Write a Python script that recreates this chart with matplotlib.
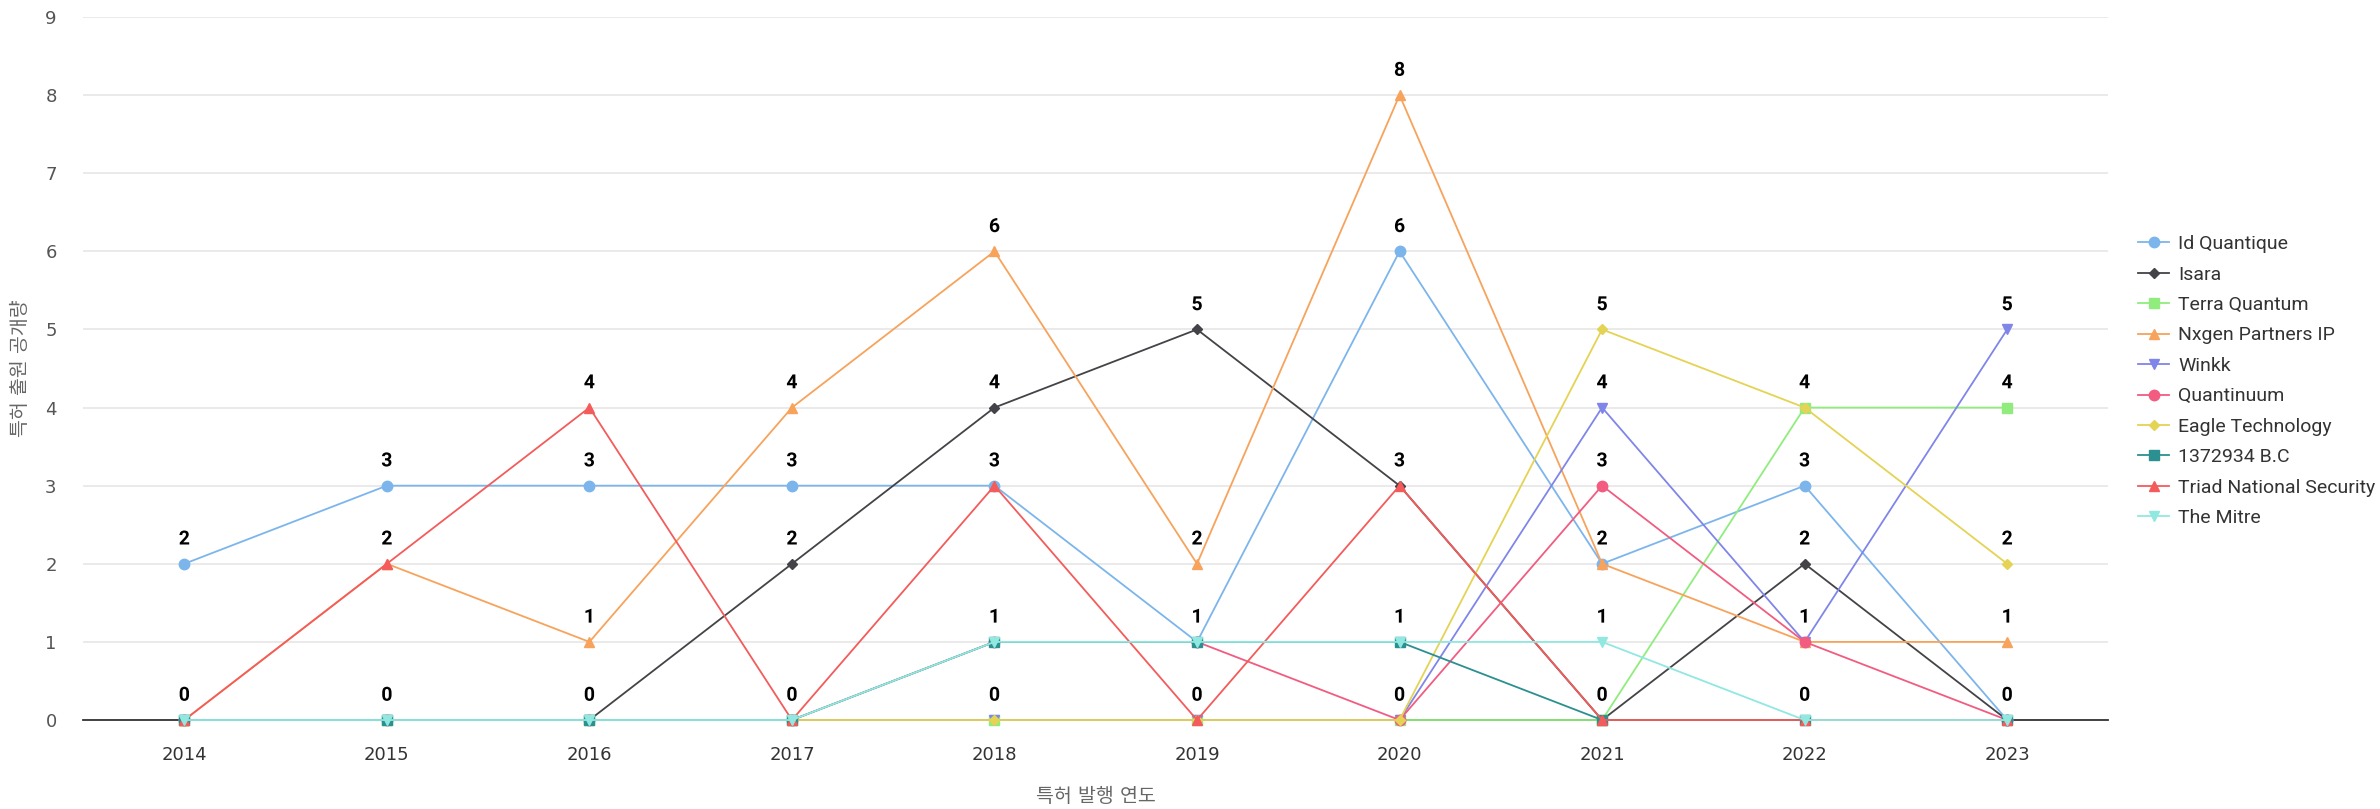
import numpy as np
import matplotlib
matplotlib.use("Agg")
import matplotlib.pyplot as plt
import matplotlib.patheffects as pe

plt.rcParams['font.family'] = ['DejaVu Sans', 'Noto Sans CJK KR']

# 데이터
years = ['2014', '2015', '2016', '2017', '2018', '2019', '2020', '2021', '2022', '2023']
id_quantique = [2, 3, 3, 3, 3, 1, 6, 2, 3, 0]
isara = [0, 0, 0, 2, 4, 5, 3, 0, 2, 0]
terra_quantum = [0, 0, 0, 0, 0, 0, 0, 0, 4, 4]
nxgen = [0, 2, 1, 4, 6, 2, 8, 2, 1, 1]
winkk = [0, 0, 0, 0, 0, 0, 0, 4, 1, 5]
quantinuum = [0, 0, 0, 0, 1, 1, 0, 3, 1, 0]
eagle = [0, 0, 0, 0, 0, 0, 0, 5, 4, 2]
bc1372934 = [0, 0, 0, 0, 1, 1, 1, 0, 0, 0]
triad = [0, 2, 4, 0, 3, 0, 3, 0, 0, 0]
mitre = [0, 0, 0, 0, 1, 1, 1, 1, 0, 0]

series = [
    ('Id Quantique', id_quantique, '#7cb5ec', 'o', 7.5),
    ('Isara', isara, '#434348', 'D', 5.5),
    ('Terra Quantum', terra_quantum, '#90ed7d', 's', 7),
    ('Nxgen Partners IP', nxgen, '#f7a35c', '^', 7.5),
    ('Winkk', winkk, '#8085e9', 'v', 7.5),
    ('Quantinuum', quantinuum, '#f15c80', 'o', 7.5),
    ('Eagle Technology', eagle, '#e4d354', 'D', 5.5),
    ('1372934 B.C', bc1372934, '#2b908f', 's', 7),
    ('Triad National Security', triad, '#f45b5b', '^', 7.5),
    ('The Mitre', mitre, '#91e8e1', 'v', 7.5),
]

fig = plt.figure(figsize=(23.8, 8.09), dpi=100)
ax = fig.add_axes([0.0349, 0.110, 0.851, 0.869])

x = np.arange(len(years))
for i, (name, vals, col, mk, ms) in enumerate(series):
    ax.plot(x, vals, color=col, lw=1.3, marker=mk, markersize=ms,
            label=name, zorder=3 + i, clip_on=False)

# 값 라벨 (연도별 같은 값은 한 번만)
for j in range(len(years)):
    shown = set()
    for name, vals, col, mk, ms in series:
        v = vals[j]
        if v in shown:
            continue
        shown.add(v)
        ax.annotate(str(v), (x[j], v), xytext=(0, 11), textcoords='offset points',
                    ha='center', va='bottom', fontsize=14, fontweight='bold',
                    family=['Roboto', 'DejaVu Sans'], color='black', zorder=20,
                    path_effects=[pe.withStroke(linewidth=2, foreground='white')])

ax.set_xlim(-0.5, len(years) - 0.5)
ax.set_ylim(0, 9)
ax.set_xticks(x)
ax.set_xticklabels(years)
ax.set_yticks(range(0, 10))
ax.tick_params(axis='x', length=0, pad=19, labelsize=13, labelcolor='#333333')
ax.tick_params(axis='y', length=0, pad=19, labelsize=13, labelcolor='#555555')
ax.grid(axis='y', color='#e6e6e6', lw=1.2)
ax.set_axisbelow(True)
for s in ['top', 'right', 'left']:
    ax.spines[s].set_visible(False)
ax.spines['bottom'].set_color('#333333')
ax.spines['bottom'].set_linewidth(1.3)

ax.set_xlabel('특허 발행 연도', fontsize=14, color='#666666', labelpad=16)
ax.set_ylabel('특허 출원 공개량', fontsize=14, color='#666666')
ax.yaxis.set_label_coords(-0.026, 0.5)

leg = ax.legend(loc='center left', bbox_to_anchor=(1.006, 0.482), frameon=False,
                prop={'family': ['Roboto', 'DejaVu Sans'], 'size': 14},
                handlelength=1.6, labelspacing=0.64, handletextpad=0.45)
for t in leg.get_texts():
    t.set_color('#333333')

fig.savefig('out.png', dpi=100)
